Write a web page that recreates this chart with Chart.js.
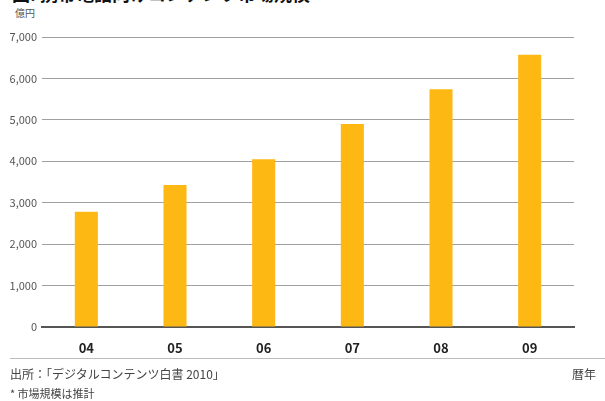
<!DOCTYPE html>
<html>
<head>
<meta charset="utf-8">
<script src="https://cdn.jsdelivr.net/npm/chart.js@4/dist/chart.umd.min.js"></script>
<style>
    html, body { margin: 0; padding: 0; background: #fff; }
    body { width: 605px; height: 401px; position: relative; overflow: hidden;
           font-family: 'Noto Sans CJK JP', 'Noto Sans', sans-serif; }
    #wrap { position: absolute; left: 0; top: 0; width: 605px; height: 401px; }
    .txt { position: absolute; white-space: nowrap; color: #444; }
    #title { left: 12px; top: -16px; font-size: 18px; line-height: 18px; font-weight: bold; color: #111; }
    #unit { left: 15px; top: 7px; font-size: 10px; line-height: 12px; color: #555; }
    #rule { position: absolute; left: 10px; top: 358px; width: 595px; height: 1px; background: #bbb; }
    #source { left: 10px; top: 366px; font-size: 12px; line-height: 15px; }
    #xunit { right: 9px; top: 366px; font-size: 12px; line-height: 15px; }
    #note { left: 10px; top: 386px; font-size: 11px; line-height: 15px; }
</style>
</head>
<body>
<div class="txt" id="title">図. 携帯電話向けコンテンツ市場規模</div>
<div class="txt" id="unit">億円</div>
<div id="wrap"><canvas id="marketChart" width="605" height="401"></canvas></div>
<div id="rule"></div>
<div class="txt" id="source">出所：「デジタルコンテンツ白書 2010」</div>
<div class="txt" id="xunit">暦年</div>
<div class="txt" id="note">* 市場規模は推計</div>

<script>
// market size per calendar year (100 million yen)
const years = ['04', '05', '06', '07', '08', '09'];
const marketSize = [2780, 3430, 4050, 4900, 5740, 6570];
const yTicks = [0, 1000, 2000, 3000, 4000, 5000, 6000, 7000];

const ctx = document.getElementById('marketChart').getContext('2d');

new Chart(ctx, {
    type: 'bar',
    data: {
        labels: years,
        datasets: [{
            data: marketSize,
            backgroundColor: '#fdb813',
            borderWidth: 0,
            barPercentage: 0.26,
            categoryPercentage: 1
        }]
    },
    options: {
        responsive: false,
        animation: false,
        layout: {
            padding: { top: 37, right: 31, left: 0, bottom: 0 }
        },
        plugins: {
            legend: { display: false },
            tooltip: { enabled: false }
        },
        scales: {
            x: {
                grid: { display: false },
                border: { display: true, color: '#555', width: 2 },
                ticks: {
                    color: '#222',
                    padding: 5,
                    font: { family: 'Noto Sans CJK JP', size: 13, weight: 'bold' }
                },
                afterFit: function (scale) { scale.height = 74; }
            },
            y: {
                min: 0,
                max: 7000,
                border: { display: false },
                grid: { color: '#a0a0a0', lineWidth: 1, drawTicks: false },
                afterBuildTicks: function (scale) {
                    scale.ticks = yTicks.map(v => ({ value: v }));
                },
                ticks: {
                    color: '#555',
                    padding: 5,
                    font: { family: 'Noto Sans CJK JP', size: 11 },
                    callback: function (value) { return value.toLocaleString('en-US'); }
                },
                afterFit: function (scale) { scale.width = 42; }
            }
        }
    }
});
</script>
</body>
</html>
